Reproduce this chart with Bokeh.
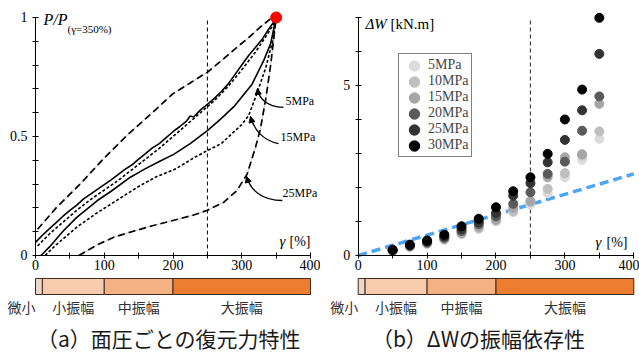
import numpy as np
from bokeh.plotting import figure
from bokeh.layouts import row
from bokeh.models import (Range1d, FixedTicker, Legend, LegendItem, Arrow,
                          NormalHead, ColumnDataSource)
from bokeh.core.properties import value
from bokeh.embed import file_html
from bokeh.resources import INLINE

# ---------------- data : (a) restoring-force curves ----------------
up5_g = [0, 10, 20, 30, 40, 50, 60, 70, 80, 90, 100, 110, 120, 130, 140, 150, 160, 170,
         180, 190, 200, 210, 220, 225, 230, 240, 250, 260, 270, 280, 290, 300, 310, 320,
         330, 340, 345, 350]
up5_p = [0.055, 0.085, 0.112, 0.138, 0.165, 0.19, 0.212, 0.238, 0.258, 0.278, 0.298,
         0.318, 0.34, 0.362, 0.38, 0.405, 0.428, 0.452, 0.47, 0.495, 0.52, 0.542, 0.566,
         0.586, 0.582, 0.612, 0.635, 0.66, 0.688, 0.72, 0.76, 0.80, 0.84, 0.875, 0.91,
         0.955, 0.975, 1.0]
lo5_g = [8, 20, 41, 60, 90, 110, 138, 160, 180, 201, 225, 250, 270, 290, 315, 332, 342, 347, 350]
lo5_p = [0.0, 0.035, 0.105, 0.16, 0.231, 0.27, 0.329, 0.365, 0.395, 0.425, 0.47, 0.525,
         0.575, 0.63, 0.72, 0.82, 0.89, 0.96, 1.0]

up15_g = [3, 20, 40, 60, 80, 100, 120, 140, 160, 180, 200, 220, 240, 250, 260, 280, 300,
          320, 335, 345, 350]
up15_p = [0.04, 0.09, 0.14, 0.19, 0.235, 0.275, 0.315, 0.36, 0.405, 0.45, 0.50, 0.55, 0.60,
          0.625, 0.65, 0.71, 0.78, 0.855, 0.92, 0.965, 1.0]
lo15_g = [14, 30, 60, 90, 114, 150, 175, 204, 230, 250, 270, 288, 300, 310, 322, 335, 342,
          346, 350]
lo15_p = [0.0, 0.045, 0.119, 0.18, 0.224, 0.29, 0.33, 0.364, 0.41, 0.441, 0.47, 0.518, 0.55,
          0.588, 0.68, 0.79, 0.87, 0.91, 1.0]

up25_g = [3, 30, 65, 100, 135, 170, 200, 225, 250, 275, 293, 310, 327, 342, 350]
up25_p = [0.11, 0.20, 0.30, 0.41, 0.51, 0.60, 0.68, 0.725, 0.77, 0.83, 0.875, 0.915, 0.96,
          0.995, 1.0]
lo25_g = [63, 90, 114, 140, 170, 204, 230, 250, 274, 293, 308, 320, 327, 335, 342, 346, 350]
lo25_p = [0.0, 0.045, 0.077, 0.10, 0.125, 0.15, 0.17, 0.19, 0.224, 0.273, 0.343, 0.455,
          0.53, 0.66, 0.80, 0.90, 1.0]

peak_gamma = [350]
peak_p = [1.0]
gamma_ref = 250

curve_names = ["5MPa", "15MPa", "25MPa"]

# ---------------- data : (b) energy vs amplitude ----------------
gamma_w = [50, 75, 100, 125, 150, 175, 200, 225, 250, 275, 300, 325, 350]
w_5 = [0.12, 0.25, 0.34, 0.46, 0.62, 0.78, 1.00, 1.27, 1.49, 1.83, 2.30, 2.81, 3.43]
w_10 = [0.13, 0.26, 0.35, 0.47, 0.64, 0.80, 1.03, 1.30, 1.57, 1.96, 2.42, 2.94, 3.65]
w_15 = [0.14, 0.27, 0.36, 0.49, 0.66, 0.84, 1.05, 1.40, 1.60, 2.30, 2.89, 2.98, 4.46]
w_20 = [0.15, 0.28, 0.38, 0.52, 0.72, 0.92, 1.15, 1.52, 1.86, 2.40, 2.76, 3.67, 4.68]
w_25 = [0.16, 0.30, 0.41, 0.56, 0.78, 0.98, 1.25, 1.76, 2.13, 2.74, 3.40, 4.27, 5.93]
w_30 = [0.17, 0.32, 0.44, 0.61, 0.86, 1.08, 1.42, 1.89, 2.30, 2.99, 4.00, 4.88, 6.99]
series_names = ["5MPa", "10MPa", "15MPa", "20MPa", "25MPa", "30MPa"]
series_colors = ["#dcdcdc", "#bfbfbf", "#a6a6a6", "#5a5a5a", "#333333", "#000000"]
trend_g = [0, 400]
trend_w = [0.0, 2.4]

# ---------------- amplitude band ----------------
band_edges = [0, 10, 100, 200, 400]
band_names = ["微小", "小振幅", "中振幅", "大振幅"]
band_colors = ["#f0d6c8", "#f8cbad", "#f4b183", "#ed7d31"]

x_ticks = [0, 100, 200, 300, 400]
x_minor = [50, 150, 250, 350]
p_ticks = [0, 0.5, 1]
p_minor = [0.1, 0.2, 0.3, 0.4, 0.6, 0.7, 0.8, 0.9]
w_ticks = [0, 5]
w_minor = [1, 2, 3, 4, 6, 7]

SERIF = "Liberation Serif"
CJK = "Noto Sans CJK JP"


def style_axes(p, xb, yb, xt, xm, yt, ym):
    for ax in (p.xaxis[0], p.yaxis[0]):
        ax.fixed_location = 0
        ax.axis_line_color = "black"
        ax.axis_line_width = 1
        ax.major_tick_in = 3
        ax.major_tick_out = 3
        ax.minor_tick_in = 3
        ax.minor_tick_out = 3
        ax.major_tick_line_color = "black"
        ax.minor_tick_line_color = "black"
        ax.major_label_text_font = SERIF
        ax.major_label_text_font_size = "14px"
        ax.major_label_text_color = "black"
    p.xaxis[0].ticker = FixedTicker(ticks=xt, minor_ticks=xm)
    p.yaxis[0].ticker = FixedTicker(ticks=yt, minor_ticks=ym)
    p.xaxis[0].bounds = xb
    p.yaxis[0].bounds = yb
    p.xaxis[0].major_label_standoff = 2
    p.yaxis[0].major_label_standoff = 5
    p.grid.visible = False
    p.outline_line_color = None


def draw_band(p, y_top, y_bot, y_lab):
    p.quad(left=band_edges[:-1], right=band_edges[1:], top=y_top, bottom=y_bot,
           fill_color=band_colors, line_color="#3a2a20", line_width=1)
    centers = [(a + b) / 2 for a, b in zip(band_edges[1:-1], band_edges[2:])]
    p.text(x=centers, y=[y_lab] * len(centers), text=band_names[1:],
           text_font=value(CJK), text_font_size="14px", text_color="#333333",
           text_align="center", text_baseline="middle")
    p.text(x=[band_edges[0]], y=[y_lab], text=band_names[:1], x_offset=0,
           text_font=value(CJK), text_font_size="14px", text_color="#333333",
           text_align="right", text_baseline="middle")


# ================= left panel =================
p1 = figure(width=320, height=354, x_range=Range1d(-50.91, 414.5),
            y_range=Range1d(-0.416, 1.0714), output_backend="svg",
            toolbar_location=None, min_border=0)
style_axes(p1, (0, 400), (0, 1), x_ticks, x_minor, p_ticks, p_minor)
p1.yaxis[0].major_label_overrides = {0: "0", 0.5: "0.5", 1: "1"}

p1.line([gamma_ref, gamma_ref], [p_ticks[0], p_ticks[-1]], line_color="black",
        line_width=1, line_dash="4 3")

# 25 MPa (long dash, with faint line underneath)
for g, v in ((up25_g, up25_p), (lo25_g, lo25_p)):
    p1.line(g, v, line_color="#b0b0b0", line_width=0.7)
    p1.line(g, v, line_color="black", line_width=1.7, line_dash="7 4")
# 15 MPa (short dash)
for g, v in ((up15_g, up15_p), (lo15_g, lo15_p)):
    p1.line(g, v, line_color="black", line_width=1.6, line_dash="3 2")
# 5 MPa (solid)
for g, v in ((up5_g, up5_p), (lo5_g, lo5_p)):
    p1.line(g, v, line_color="black", line_width=1.6)

p1.scatter(peak_gamma, peak_p, size=11, color="#ff0000")

# annotations (curved arrows)
arr = dict(x0=[360.7, 353.5, 359.0], y0=[0.622, 0.470, 0.231],
           cx0=[334.5, 330.0, 330.0], cy0=[0.626, 0.483, 0.231],
           cx1=[324.4, 317.0, 312.7], cy1=[0.664, 0.534, 0.273],
           x1=[322.9, 312.7, 307.0], y1=[0.702, 0.584, 0.332])
p1.bezier(x0="x0", y0="y0", x1="x1", y1="y1", cx0="cx0", cy0="cy0", cx1="cx1",
          cy1="cy1", source=ColumnDataSource(arr), line_color="black", line_width=1.3)
p1.add_layout(Arrow(end=NormalHead(size=6, fill_color="black", line_color="black"),
                    x_start="cx1", y_start="cy1", x_end="x1", y_end="y1",
                    source=ColumnDataSource(arr), line_alpha=0))
p1.text(x=[363.6, 356.4, 359.3], y=[0.651, 0.496, 0.2605], text=curve_names,
        text_font=value(SERIF), text_font_size="12px", text_baseline="middle",
        text_align="left")

# axis titles
p1.text(x=[11.6], y=[0.9916], text=["P/P"], text_font=value(SERIF), text_font_size="16px",
        text_font_style="italic", text_baseline="middle")
p1.text(x=[46.5], y=[0.9496], text=["(γ=350%)"], text_font=value(SERIF),
        text_font_size="11px", text_baseline="middle")
p1.text(x=[400], y=[0.0588], text=["[%]"], text_font=value(SERIF), text_font_size="14px",
        text_align="right", text_baseline="middle")
p1.text(x=[363.6], y=[0.0588], text=["γ"], text_font=value(SERIF), text_font_size="15px",
        text_font_style="italic", text_align="right", text_baseline="middle")

draw_band(p1, -0.0966, -0.1639, -0.2172)
p1.text(x=[194], y=[-0.3487], text=["（a）面圧ごとの復元力特性"], text_font=value(CJK),
        text_font_size="21px", text_color="#1a1a1a", text_align="center",
        text_baseline="middle")

# ================= right panel =================
p2 = figure(width=319, height=354, x_range=Range1d(-54.72, 408.3),
            y_range=Range1d(-2.912, 7.5), output_backend="svg",
            toolbar_location=None, min_border=0)
style_axes(p2, (0, 400), (0, 7), x_ticks, x_minor, w_ticks, w_minor)

p2.line([gamma_ref, gamma_ref], [w_ticks[0], w_minor[-1]], line_color="#444444",
        line_width=1.2, line_dash="4 3")
p2.line(trend_g, trend_w, line_color="#4da6f5", line_width=3.5, line_dash="9 5")

items = []
for name, col, vals in zip(series_names, series_colors, [w_5, w_10, w_15, w_20, w_25, w_30]):
    r = p2.ellipse(gamma_w, vals, width=9, height=9, width_units="screen",
                   height_units="screen", fill_color=col, line_color=col)
    items.append(LegendItem(label=name, renderers=[r]))

leg = Legend(items=items, location=(78, 197), glyph_width=24, glyph_height=13,
             label_height=15, spacing=0, padding=3, label_standoff=2,
             label_text_font=SERIF, label_text_font_size="14px",
             border_line_color="black", border_line_width=1,
             background_fill_color="white", background_fill_alpha=1, margin=0)
p2.add_layout(leg)

p2.text(x=[10.6], y=[6.82], text=["ΔW"], text_font=value(SERIF), text_font_size="15px",
        text_font_style="italic", text_baseline="middle")
p2.text(x=[46.9], y=[6.82], text=["[kN.m]"], text_font=value(SERIF), text_font_size="15px",
        text_baseline="middle")
p2.text(x=[390.9], y=[0.391], text=["[%]"], text_font=value(SERIF), text_font_size="14px",
        text_align="right", text_baseline="middle")
p2.text(x=[353.1], y=[0.391], text=["γ"], text_font=value(SERIF), text_font_size="15px",
        text_font_style="italic", text_align="right", text_baseline="middle")

draw_band(p2, -0.6765, -1.147, -1.52)
p2.text(x=[174.6], y=[-2.441], text=["（b）ΔWの振幅依存性"], text_font=value(CJK),
        text_font_size="21px", text_color="#1a1a1a", text_align="center",
        text_baseline="middle")

layout = row(p1, p2, spacing=0)
open("out.html", "w").write(file_html(layout, INLINE))
